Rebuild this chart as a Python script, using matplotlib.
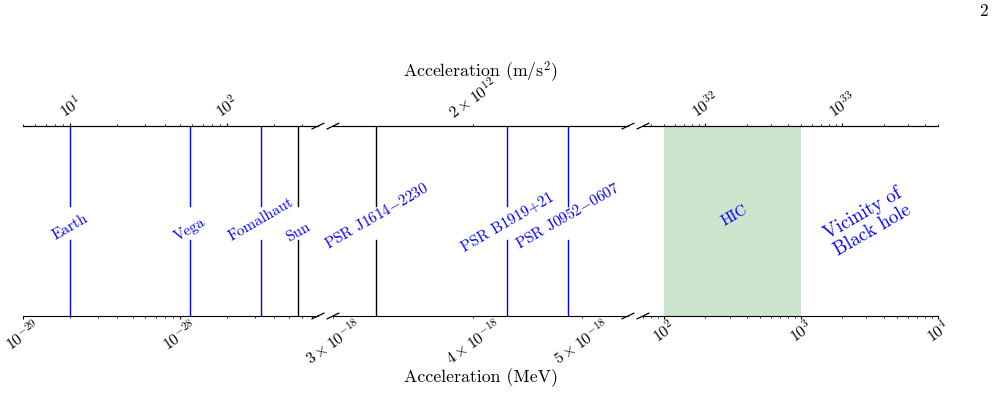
import numpy as np
import matplotlib
matplotlib.use("Agg")
import matplotlib.pyplot as plt
from matplotlib.ticker import LogLocator, FixedLocator

plt.rcParams["font.family"] = "serif"
plt.rcParams["font.serif"] = ["cmr10"]
plt.rcParams["mathtext.fontset"] = "cm"
plt.rcParams["axes.formatter.use_mathtext"] = True
plt.rcParams["axes.unicode_minus"] = False

# energy ranges of the three broken-axis panels (MeV)
panel_lo = [1e-29, 3e-18, 70]
panel_hi = [7.6e-28, 5.5e-18, 1e4]

# only tick shown on the top axis of the middle panel (m/s^2)
mid_top_ticks = [2e12]

# marked objects: name, energy (MeV), panel index
names = ["Earth", "Vega", "Fomalhaut", "Sun",
         "PSR J1614$-$2230", "PSR B1919+21", "PSR J0952$-$0607"]
energies = [2e-29, 1.16e-28, 3.28e-28, 5.65e-28, 3.28e-18, 4.29e-18, 4.86e-18]
panels = [0, 0, 0, 0, 1, 1, 1]
line_colors = ["blue", "blue", "blue", "black", "black", "blue", "blue"]
label_y = [0.468, 0.453, 0.51, 0.442, 0.526, 0.495, 0.526]

hic_range = [1e2, 1e3]
hic_label_x = 325
bh_label_x = 3090

ms2_per_mev = 5e29


def to_ms2(x):
    return x * ms2_per_mev


def to_mev(x):
    return x / ms2_per_mev


fig, axes = plt.subplots(1, 3, figsize=(9.95, 3.94), dpi=100)
fig.subplots_adjust(left=0.0231, right=0.9427, top=0.680, bottom=0.198, wspace=0.051)

for i, ax in enumerate(axes):
    ax.set_xscale("log")
    ax.set_xlim(panel_lo[i], panel_hi[i])
    ax.set_ylim(0, 1)
    ax.set_yticks([])
    ax.spines["left"].set_visible(False)
    ax.spines["right"].set_visible(False)
    ax.xaxis.set_minor_locator(LogLocator(base=10, subs=np.arange(2, 10), numticks=20))
    ax.tick_params(axis="x", which="both", labelsize=11.5, labelrotation=35, pad=-2)
    ax.tick_params(axis="x", which="major", length=2.5)
    ax.tick_params(axis="x", which="minor", length=1.5)

    sec = ax.secondary_xaxis("top", functions=(to_ms2, to_mev))
    sec.xaxis.set_major_locator(LogLocator(base=10, numticks=20))
    if i == 1:
        sec.xaxis.set_minor_locator(FixedLocator(mid_top_ticks))
    else:
        sec.xaxis.set_minor_locator(LogLocator(base=10, subs=np.arange(2, 10), numticks=20))
    sec.tick_params(axis="x", which="both", labelsize=11.5, labelrotation=35, pad=1.5)
    sec.tick_params(axis="x", which="major", length=2.5)
    sec.tick_params(axis="x", which="minor", length=1.5)

    # break marks
    dx, dy = 0.02, 0.015
    kw = dict(transform=ax.transAxes, color="k", clip_on=False, lw=0.9)
    for y in (0, 1):
        if i < 2:
            ax.plot((1 - dx, 1 + dx), (y - dy, y + dy), **kw)
        if i > 0:
            ax.plot((-dx, dx), (y - dy, y + dy), **kw)

for name, e, p, c, ly in zip(names, energies, panels, line_colors, label_y):
    ax = axes[p]
    ax.axvline(e, ymin=0.58, ymax=1, color=c, lw=1)
    ax.axvline(e, ymin=0, ymax=0.4, color=c, lw=1)
    ax.text(e, ly, name, transform=ax.get_xaxis_transform(), rotation=30,
            ha="center", va="center", color="blue", fontsize=11)

ax3 = axes[2]
ax3.axvspan(hic_range[0], hic_range[1], color="g", alpha=0.2, lw=0)
ax3.text(hic_label_x, 0.526, "HIC", transform=ax3.get_xaxis_transform(), rotation=30,
         ha="center", va="center", color="blue", fontsize=11)
ax3.text(bh_label_x, 0.495, "Vicinity of\nBlack hole", transform=ax3.get_xaxis_transform(),
         rotation=30, ha="center", va="center", color="blue", fontsize=13.5,
         multialignment="center", linespacing=1.1)

fig.text(0.4834, 0.817, "Acceleration (m/s$^2$)", ha="center", va="center", fontsize=12.8)
fig.text(0.4834, 0.041, "Acceleration (MeV)", ha="center", va="center", fontsize=12.8)
fig.text(0.988, 0.97, "2", ha="center", va="center", fontsize=12.5)

fig.savefig("out.png", dpi=100)
